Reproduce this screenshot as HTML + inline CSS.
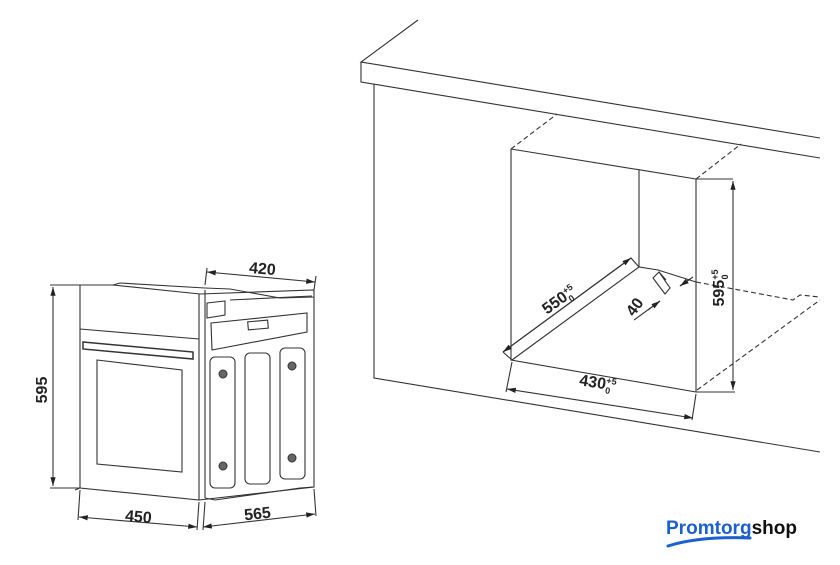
<!DOCTYPE html>
<html><head><meta charset="utf-8"><style>
html,body{margin:0;padding:0;background:#fff;width:840px;height:565px;overflow:hidden}
svg{display:block}
text{font-family:"Liberation Sans Narrow","Liberation Sans",sans-serif;font-weight:bold;fill:#222}
</style></head><body>
<svg width="840" height="565" viewBox="0 0 840 565" xmlns="http://www.w3.org/2000/svg">
<defs>
<marker id="a" viewBox="0 0 10 6" refX="10" refY="3" markerWidth="8" markerHeight="5" orient="auto-start-reverse"><path d="M0,0L10,3L0,6z" fill="#222"/></marker>
</defs>
<g stroke="#333" stroke-width="1.1" fill="none">
<path d="M418,20L361,62L820,138M361,62V82L820,158M374,84V378L820,452"/>
<path d="M511,149L696,179M511,149V360L696,392V179M639,170V267M512,360L639,267L658,270L696,282M696,179L733,179M696,392L735,392"/>
<path d="M511,149L557,114M696,179L741,144M696,282L793,300L800,295L820,297M697,390L820,300" stroke-dasharray="5,3"/>
<path d="M503,352L631,258L639,267M503,352L512,360" />
<path d="M503,352L631,258" marker-start="url(#a)" marker-end="url(#a)"/>
<path d="M733,181V390" marker-start="url(#a)" marker-end="url(#a)"/>
<path d="M512,362L506,392M696,394L692,420"/>
<path d="M507,389L693,418" marker-start="url(#a)" marker-end="url(#a)"/>
<path d="M653,278L659,272L670,288L665,294ZM659,272L666,280"/>
<path d="M634,320L660,301M680,286L693,277"/>
<path d="M648,310L660,301" marker-end="url(#a)"/>
<path d="M690,279L680,286" marker-end="url(#a)"/>
<path d="M80,285L113,285L200,294M80,285V488L199,500V294M80,329L199,339"/>
<path d="M83,342L193,352L193,359L83,349Z" stroke-width="1.5"/>
<path d="M97,360L182,370L182,472L97,464Z"/>
<path d="M113,285L120,283L205,288L230,289L280,298L314,297M200,294L314,290V487L199,500M205,290L205,498"/>
<path d="M207,303L225,301V315L207,318ZM230,300L312,296"/>
<path d="M211,323L307,313L307,332L212,350Z"/>
<rect x="248" y="321" width="20" height="8" transform="rotate(-5 258 325)"/>
<rect x="210" y="357" width="25" height="131" rx="5"/>
<rect x="245" y="353" width="25" height="131" rx="5"/>
<rect x="280" y="348" width="25" height="131" rx="5"/>
<path d="M205,498L215,500L300,488L313,487M80,488L75,490"/>
<path d="M50,285H80M50,488H80M80,490L78,520M199,502L197,530M205,502L203,530M314,489L316,516M205,285L207,268M314,290L316,276"/>
<path d="M53,287V486" marker-start="url(#a)" marker-end="url(#a)"/>
<path d="M79,517L197,527" marker-start="url(#a)" marker-end="url(#a)"/>
<path d="M203,527L315,514" marker-start="url(#a)" marker-end="url(#a)"/>
<path d="M207,272L315,282" marker-start="url(#a)" marker-end="url(#a)"/>
</g>
<g fill="#666" stroke="#333" stroke-width="1">
<circle cx="223" cy="374" r="4"/><circle cx="223" cy="466" r="4"/>
<circle cx="292" cy="366" r="4"/><circle cx="292" cy="458" r="4"/>
</g>
<text x="0" y="0" font-size="16" transform="translate(47,390) rotate(-90)" text-anchor="middle">595</text>
<text x="138" y="522" font-size="16" text-anchor="middle" transform="rotate(5 138 522)">450</text>
<text x="258" y="519" font-size="16" text-anchor="middle" transform="rotate(-6 258 519)">565</text>
<text x="262" y="274" font-size="16" text-anchor="middle" transform="rotate(5 262 274)">420</text>
<text x="0" y="0" font-size="16" transform="translate(562,304) rotate(-36)" text-anchor="middle">550<tspan font-size="9" dy="-6">+5</tspan><tspan font-size="9" dx="-10" dy="10">0</tspan></text>
<text x="0" y="0" font-size="16" transform="translate(639,310) rotate(-54)" text-anchor="middle">40</text>
<text x="0" y="0" font-size="16" transform="translate(724,288) rotate(-90)" text-anchor="middle">595<tspan font-size="9" dy="-6">+5</tspan><tspan font-size="9" dx="-10" dy="10">0</tspan></text>
<text x="0" y="0" font-size="16" transform="translate(597,388) rotate(9)" text-anchor="middle">430<tspan font-size="9" dy="-6">+5</tspan><tspan font-size="9" dx="-10" dy="10">0</tspan></text>
<text x="666" y="534" font-size="19" textLength="131" lengthAdjust="spacingAndGlyphs" style="font-family:'Liberation Sans',sans-serif;fill:#1c5fd0">Promtorg<tspan style="fill:#111">shop</tspan></text>
<path d="M668,546Q700,536 750,538" stroke="#1c5fd0" stroke-width="3" fill="none" stroke-linecap="round"/>
</svg>
</body></html>
